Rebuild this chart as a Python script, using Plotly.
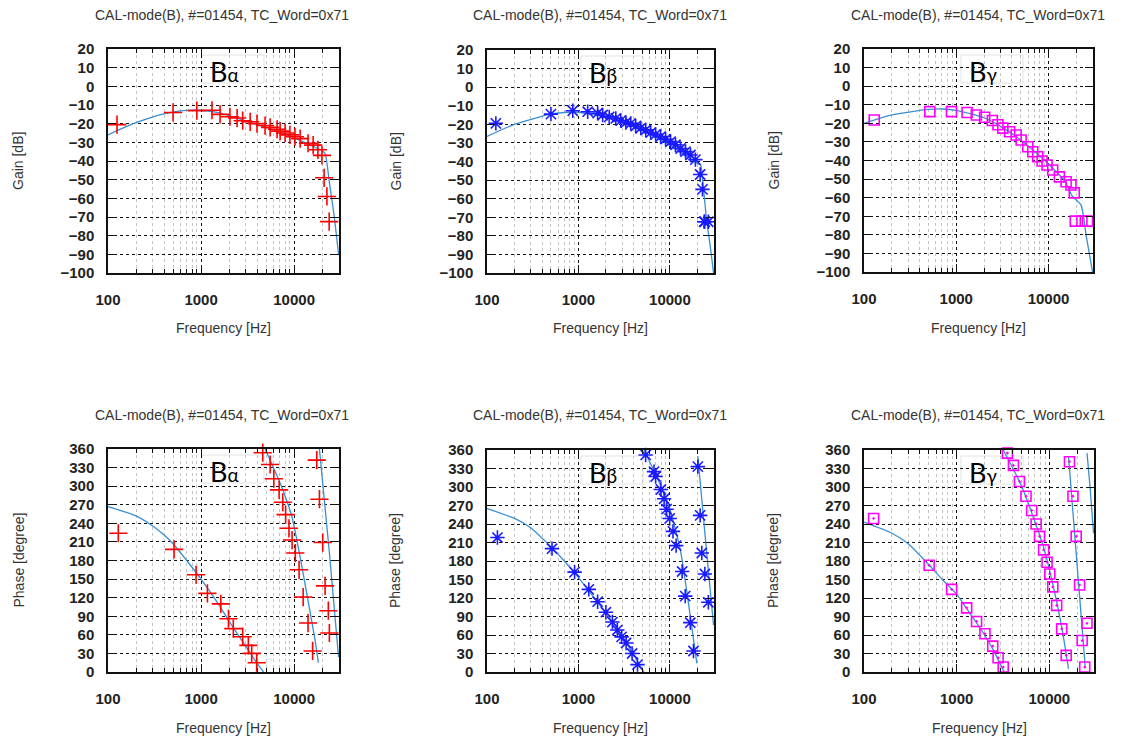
import plotly.graph_objects as go

# ---------------- data ----------------
TITLE = "CAL-mode(B), #=01454, TC_Word=0x71"
labels = ["B<span style='font-size:19px'>α</span>", "B<span style='font-size:19px'>β</span>", "B<span style='font-size:19px'>γ</span>"]

# Gain, B-alpha
ga_f = [125, 500, 900, 1310, 1600, 2040, 2440, 2800, 3370, 3990, 4870, 5520, 6560, 7070, 8000, 9000, 10200, 11600, 14100, 16000, 18000, 19900, 21000, 22500, 23800]
ga_v = [-20.5, -14, -13, -12.8, -15, -16.3, -17, -18.4, -19, -20, -21, -22, -23, -24, -25, -26, -27, -28, -30.5, -31.5, -34, -37, -49, -59, -72.5]
ga_cf = [100, 150, 200, 300, 400, 600, 800, 1000, 1500, 2000, 3000, 5000, 7000, 10000, 15000, 20000, 21500, 24000, 27000, 30000]
ga_cv = [-26, -22, -19.5, -16.5, -14.8, -13.2, -12.7, -12.8, -14, -15.7, -18.5, -22, -24.5, -27.5, -31.5, -34.5, -36, -52, -70, -90]

# Gain, B-beta
gb_f = [125, 500, 867, 1262, 1620, 1840, 2170, 2560, 2900, 3300, 3730, 4220, 4800, 5440, 6160, 6980, 7910, 8960, 10160, 11500, 13050, 14800, 16750, 18980, 21400, 22700, 23700, 24000, 26300]
gb_v = [-19.5, -14.5, -12.7, -13.2, -14, -15, -16, -16.8, -18, -19, -19.5, -21, -22, -23, -24.5, -25.4, -26.6, -28, -29.3, -31, -33, -34.7, -36.5, -39, -47, -55, -72.4, -72.4, -72.4]
gb_cf = [100, 200, 500, 800, 1000, 2000, 3000, 5000, 10000, 15000, 20000, 21700, 23000, 25000, 28000, 30000]
gb_cv = [-26.5, -20, -14.5, -13.5, -13.5, -16, -19, -23.5, -31, -37, -41, -42, -52, -70, -88, -100]

# Gain, B-gamma
gc_f = [129, 517, 887, 1310, 1650, 2030, 2460, 2830, 3200, 3790, 4460, 5050, 5960, 6750, 7640, 8520, 9630, 11100, 13100, 15500, 17500, 19000, 19500, 23000, 26500]
gc_v = [-18.2, -13.7, -13.7, -14.2, -15.5, -16.7, -18.5, -20.8, -22.6, -24.5, -26.3, -29, -32.6, -35.3, -38, -40.3, -42.4, -45.1, -48.8, -51.4, -53.2, -57.4, -72.6, -72.6, -72.6]
gc_cf = [100, 200, 500, 700, 1000, 2000, 3000, 5000, 10000, 15000, 18000, 22500, 25700, 30000]
gc_cv = [-20, -15.5, -12.5, -12.3, -13, -17, -21.5, -29, -42, -51, -59, -64, -81, -100]

# Phase, B-alpha
pa_f = [129, 513, 884, 1170, 1630, 1970, 2220, 2800, 3220, 3500, 3960,
        4600, 5520, 6050, 6900, 7550, 8100, 8800, 9500, 10300, 11300, 12500, 14100, 15800,
        17500, 18700, 20300, 21500, 23300, 23900]
pa_v = [224, 198, 157, 127, 110, 86, 70, 57, 43, 30, 15,
        354, 335, 312, 294, 274, 254, 232, 213, 192, 165, 121, 79, 34,
        342, 279, 209, 139, 99, 63]
pa_c1f = [100, 200, 300, 400, 500, 700, 1000, 1500, 2000, 3000, 4000, 4700]
pa_c1v = [267, 252, 236, 221, 207, 180, 150, 112, 82, 42, 14, 0]
pa_c2f = [4880, 7300, 9450, 10700, 12500, 14500, 16800, 18200]
pa_c2v = [360, 300, 251, 213, 159, 105, 51, 15]
pa_c3f = [18700, 24000, 30000]
pa_c3v = [360, 190, 24]

# Phase, B-beta
pb_f = [130, 514, 907, 1297, 1620, 1995, 2350, 2660, 2960, 3320, 3860, 4420,
        5430, 6700, 6980, 7960, 8640, 9190, 9930, 10800, 11700, 13600, 14700, 16700, 18100,
        20200, 21400, 22300, 24100, 26300]
pb_v = [218, 200, 162, 134, 114, 97, 81, 68, 57, 47, 30, 12,
        352, 325, 317, 296, 281, 264, 249, 228, 205, 163, 123, 80, 34,
        333, 254, 193, 159, 113]
pb_c1f = [100, 200, 300, 500, 700, 1000, 2000, 3000, 4000, 5200]
pb_c1v = [265, 249, 234, 203, 180, 153, 95, 58, 28, 0]
pb_c2f = [5200, 7000, 9800, 13000, 16000, 19700]
pb_c2v = [360, 320, 268, 198, 110, 14]
pb_c3f = [20200, 25000, 30000]
pb_c3v = [350, 200, 76]

# Phase, B-gamma
pc_f = [127, 505, 883, 1282, 1640, 2020, 2450, 2800, 3180,
        3530, 4100, 4760, 5600, 6450, 7200, 7840, 8680, 9450, 10120, 10900, 12000, 13600, 15200,
        16500, 17990, 19500, 21200, 25500, 22600, 24100]
pc_v = [249, 173, 134, 104, 82, 62, 42, 23, 8,
        355, 335, 309, 285, 262, 240, 220, 198, 178, 159, 138, 108, 70, 27,
        341, 285, 220, 141, 79, 51, 8]
pc_c1f = [100, 200, 300, 500, 700, 1000, 1500, 2000, 2500, 3250]
pc_c1v = [243, 225, 208, 174, 150, 126, 88, 60, 35, 0]
pc_c2f = [3180, 5000, 8680, 11000, 13600, 16100]
pc_c2v = [360, 302, 202, 140, 73, 5]
pc_c3f = [16100, 19800, 24400]
pc_c3v = [350, 179, 8]
pc_c4f = [25500, 27500, 30000]
pc_c4v = [355, 300, 225]

x_ticks = [100, 1000, 10000]
x_minor = [200, 300, 400, 500, 600, 700, 800, 900, 2000, 3000, 4000, 5000, 6000, 7000, 8000, 9000, 20000, 30000]

# ---------------- figure ----------------
W, H = 1129, 742
fig = go.Figure()

FIT = "#3a8fd0"
marker_styles = [
    dict(symbol="cross-thin", size=13, line=dict(color="#ff0000", width=1.6)),
    dict(symbol="asterisk", size=12, line=dict(color="#1a1aff", width=1.6)),
    dict(symbol="square-open", size=10, color="#ff00ff", line=dict(color="#ff00ff", width=1.6)),
]
marker_styles_ph = [
    marker_styles[0], marker_styles[1],
    dict(symbol="square-open-dot", size=10, color="#ff00ff", line=dict(color="#ff00ff", width=1.6)),
]

# pixel boxes of plot areas: (left, right, top, bottom)
boxes = [
    (108, 339, 49, 273), (487, 714, 50, 273), (864, 1093, 49, 272),
    (108, 339, 449, 672), (487, 714, 450, 672), (864, 1094, 450, 672),
]

gain_sets = [
    (ga_f, ga_v, [(ga_cf, ga_cv)]),
    (gb_f, gb_v, [(gb_cf, gb_cv)]),
    (gc_f, gc_v, [(gc_cf, gc_cv)]),
]
phase_sets = [
    (pa_f, pa_v, [(pa_c1f, pa_c1v), (pa_c2f, pa_c2v), (pa_c3f, pa_c3v)]),
    (pb_f, pb_v, [(pb_c1f, pb_c1v), (pb_c2f, pb_c2v), (pb_c3f, pb_c3v)]),
    (pc_f, pc_v, [(pc_c1f, pc_c1v), (pc_c2f, pc_c2v), (pc_c3f, pc_c3v), (pc_c4f, pc_c4v)]),
]

tickfont = dict(family="Liberation Sans, Arial", size=15, color="#222", weight="bold")
annfont = dict(family="Liberation Sans, Arial", size=14, color="#333")

for i in range(6):
    n = i + 1
    xa = "x" if n == 1 else f"x{n}"
    ya = "y" if n == 1 else f"y{n}"
    is_gain = i < 3
    f, v, curves = (gain_sets[i] if is_gain else phase_sets[i - 3])
    ms = marker_styles[i % 3] if is_gain else marker_styles_ph[i % 3]
    for cf, cv in curves:
        fig.add_trace(go.Scatter(x=cf, y=cv, mode="lines", line=dict(color=FIT, width=1.3, shape="spline", smoothing=0.6),
                                 xaxis=xa, yaxis=ya, showlegend=False, hoverinfo="skip", cliponaxis=True))
    fig.add_trace(go.Scatter(x=f, y=v, mode="markers", marker=ms, xaxis=xa, yaxis=ya,
                             showlegend=False, cliponaxis=False))

    l, r, t, b = boxes[i]
    xdom = [l / W, r / W]
    ydom = [1 - b / H, 1 - t / H]
    axkey_x = "xaxis" if n == 1 else f"xaxis{n}"
    axkey_y = "yaxis" if n == 1 else f"yaxis{n}"
    fig.update_layout({
        axkey_x: dict(
            domain=xdom, anchor=ya, type="log", range=[2, 4.482], automargin=False,
            tickmode="array", tickvals=x_ticks, ticktext=[str(t_) for t_ in x_ticks],
            ticks="inside", ticklen=8, tickwidth=1, tickcolor="#111",
            showgrid=True, gridcolor="#111", griddash="3px,3px", gridwidth=1,
            minor=dict(tickmode="array", tickvals=x_minor, ticks="inside", ticklen=4, tickcolor="#111",
                       showgrid=True, gridcolor="#c4c4c4", griddash="dot", gridwidth=1),
            showline=True, linecolor="#111", linewidth=1.5, mirror="allticks",
            tickfont=tickfont, ticklabelstandoff=12, zeroline=False,
        ),
        axkey_y: dict(
            domain=ydom, anchor=xa, automargin=False,
            range=[-100, 20] if is_gain else [0, 360],
            dtick=10 if is_gain else 30, tick0=0,
            ticks="inside", ticklen=8, tickwidth=1, tickcolor="#111",
            showgrid=True, gridcolor="#111", griddash="3px,3px", gridwidth=1,
            showline=True, linecolor="#111", linewidth=1.5, mirror="allticks",
            tickfont=tickfont, ticklabelstandoff=9, zeroline=False,
        ),
    })

# titles and axis titles
title_cx = [222, 600, 978]
ytitle_x = [18, 395, 773]
label_cx = [224, 603, 983]
for row in range(2):
    for c in range(3):
        i = row * 3 + c
        l, r, t, b = boxes[i]
        ty = 15 if row == 0 else 415
        fig.add_annotation(x=title_cx[c] / W, y=1 - ty / H, xref="paper", yref="paper",
                           text=TITLE, showarrow=False, font=annfont, xanchor="center", yanchor="middle")
        fy = 328 if row == 0 else 728
        fig.add_annotation(x=(l + r) / 2 / W, y=1 - fy / H, xref="paper", yref="paper",
                           text="Frequency [Hz]", showarrow=False, font=annfont, xanchor="center", yanchor="middle")
        fig.add_annotation(x=ytitle_x[c] / W, y=1 - ((t + b) / 2) / H, xref="paper", yref="paper",
                           text="Gain [dB]" if row == 0 else "Phase [degree]", textangle=-90,
                           showarrow=False, font=annfont, xanchor="center", yanchor="middle")
        # white label box (between grid and data)
        cx = label_cx[c]
        fig.add_shape(type="rect", xref="paper", yref="paper", layer="between",
                      x0=(cx - 22) / W, x1=(cx + 40) / W, y0=1 - (t + 34) / H, y1=1 - (t + 6) / H,
                      fillcolor="white", line=dict(color="#e2e2e2", width=1))
        fig.add_annotation(x=cx / W, y=1 - (t + 22) / H, xref="paper", yref="paper",
                           text=labels[c], showarrow=False,
                           font=dict(family="Lato, Noto Sans", size=27, color="#000"),
                           xanchor="center", yanchor="middle")

fig.update_layout(width=W, height=H, margin=dict(l=0, r=0, t=0, b=0),
                  paper_bgcolor="white", plot_bgcolor="white", showlegend=False)

fig.write_html("out.html")
